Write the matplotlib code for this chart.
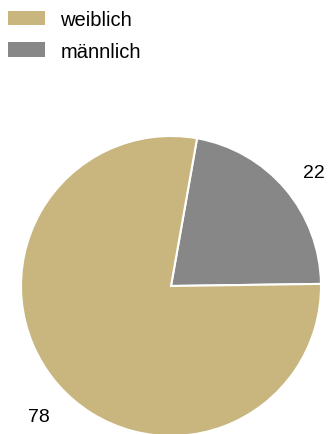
import matplotlib.pyplot as plt
from matplotlib.patches import Patch

plt.rcParams['font.family'] = ['Liberation Sans', 'DejaVu Sans']

# Geschlechterverteilung (Prozent)
kategorien = ["weiblich", "männlich"]
werte = [78, 22]
farben = ["#c8b67e", "#878787"]

W, H = 328, 435
fig = plt.figure(figsize=(W / 100, H / 100), dpi=100)
ax = fig.add_axes([0, 0, 1, 1])

# männlich zuerst, im Uhrzeigersinn ab knapp rechts von 12 Uhr
wedges, texts = ax.pie(
    werte[::-1],
    colors=farben[::-1],
    labels=[str(v) for v in werte[::-1]],
    startangle=80.0,
    counterclock=False,
    center=(171, H - 287),
    radius=150,
    labeldistance=1.25,
    wedgeprops=dict(edgecolor="white", linewidth=1.5),
    textprops=dict(fontsize=14, color="black"),
    frame=True,
)
ax.set_xlim(0, W)
ax.set_ylim(0, H)
ax.set_aspect("equal")
ax.axis("off")
texts[0].set_ha("center")
texts[1].set_ha("left")
for t in texts:
    t.set_va("top")

handles = [Patch(facecolor=c, edgecolor="none") for c in farben]
fig.legend(handles, kategorien, loc="upper left",
           bbox_to_anchor=(0.0, 1.0 - 3 / H),
           frameon=False, fontsize=14.5, handlelength=1.85, handleheight=0.75,
           handletextpad=0.75, labelspacing=0.62, borderaxespad=0.1,
           borderpad=0.3)

fig.savefig("out.png", dpi=100)
